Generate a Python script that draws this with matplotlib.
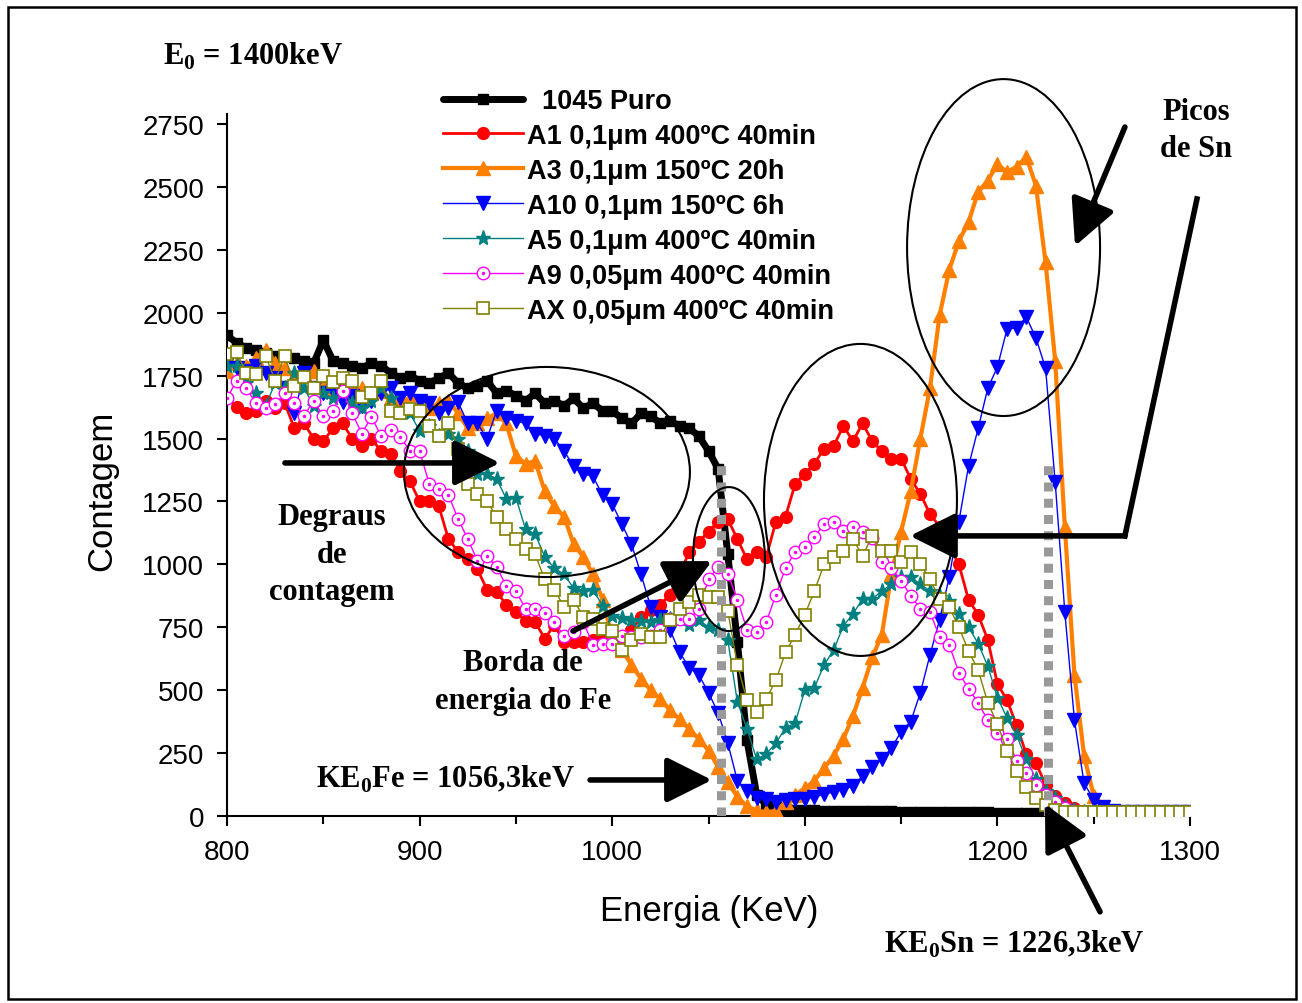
import matplotlib
matplotlib.use('Agg')
import matplotlib.pyplot as plt
from matplotlib.patches import Ellipse, Rectangle
from matplotlib.legend_handler import HandlerTuple

plt.rcParams['font.family'] = ['Liberation Sans', 'DejaVu Sans']
plt.rcParams['mathtext.fontset'] = 'custom'
plt.rcParams['mathtext.rm'] = 'Liberation Serif:bold'
plt.rcParams['mathtext.bf'] = 'Liberation Serif:bold'

# energy channels (keV), every 5 keV
energia = list(range(800, 1305, 5))

puro_1045 = [1910, 1880, 1860, 1850, 1840, 1830, 1830, 1820, 1810, 1800,
             1890, 1810, 1800, 1790, 1780, 1800, 1790, 1760, 1740, 1750,
             1730, 1720, 1740, 1760, 1720, 1700, 1710, 1730, 1680, 1690,
             1670, 1650, 1680, 1640, 1650, 1630, 1660, 1620, 1640, 1610,
             1610, 1580, 1560, 1600, 1590, 1560, 1570, 1550, 1540, 1510,
             1450, 1380, 1040, 690, 300, 85, 45, 35, 28, 25,
             22, 22, 20, 20, 20, 18, 18, 18, 18, 18,
             16, 16, 16, 15, 15, 15, 15, 14, 14, 14,
             13, 13, 12, 12, 12, 10]

a1 = [1660, 1625, 1600, 1610, 1650, 1620, 1640, 1540, 1560, 1500,
      1490, 1540, 1560, 1500, 1470, 1500, 1450, 1440, 1370, 1330,
      1250, 1250, 1230, 1100, 1050, 1020, 980, 900, 890, 840,
      810, 775, 770, 705, 760, 690, 690, 690, 700, 700,
      690, 700, 740, 790, 820, 840, 880, 960, 1050, 1090,
      1130, 1170, 1180, 1100, 1020, 1050, 1030, 1170, 1190, 1320,
      1360, 1400, 1460, 1470, 1550, 1490, 1560, 1490, 1450, 1420,
      1420, 1340, 1280, 1200, 1150, 1070, 1000, 860, 800, 700,
      525, 460, 360, 246, 210, 125, 79, 52, 30, 20,
      15, 12, 10, 10, 10, 10, 10, 10, 10, 10,
      10]

a3 = [1770, 1800, 1790, 1820, 1850, 1800, 1780, 1750, 1760, 1770,
      1720, 1700, 1720, 1690, 1700, 1680, 1690, 1660, 1650, 1660,
      1640, 1620, 1640, 1650, 1600, 1540, 1560, 1580, 1600, 1560,
      1430, 1400, 1410, 1290, 1230, 1190, 1080, 1030, 960, 860,
      710, 660, 600, 545, 500, 465, 420, 385, 345, 306,
      260, 195, 135, 75, 38, 22, 15, 20, 55, 85,
      110, 140, 190, 240, 306, 397, 510, 630, 720, 960,
      1130, 1290, 1500, 1700, 1990, 2170, 2285, 2360, 2480, 2525,
      2590, 2560, 2580, 2620, 2505, 2200, 1810, 1150, 560, 240,
      80, 36, 20, 15, 15, 15, 15, 15, 15, 15,
      15]

a10 = [1800, 1780, 1770, 1790, 1760, 1740, 1700, 1600, 1760, 1700,
       1680, 1690, 1645, 1670, 1630, 1650, 1680, 1700, 1660, 1680,
       1650, 1640, 1600, 1620, 1645, 1560, 1560, 1500, 1610, 1580,
       1570, 1560, 1520, 1510, 1500, 1450, 1390, 1360, 1350, 1275,
       1240, 1160, 1080, 960, 830, 790, 740, 650, 590, 560,
       490, 410, 290, 140, 100, 72, 68, 56, 62, 68,
       68, 75, 87, 95, 105, 119, 159, 195, 225, 270,
       335, 375, 490, 640, 780, 950, 1170, 1390, 1540, 1700,
       1784, 1935, 1940, 1983, 1900, 1780, 1327, 811, 380, 130,
       65, 36, 20, 15, 15, 15, 15, 15, 15, 15,
       15]

a5 = [1790, 1790, 1720, 1680, 1630, 1720, 1700, 1760, 1700, 1630,
      1680, 1660, 1690, 1640, 1620, 1650, 1700, 1660, 1600, 1600,
      1530, 1550, 1510, 1520, 1500, 1450, 1360, 1359, 1340, 1260,
      1265, 1140, 1120, 1030, 985, 960, 905, 895, 900, 835,
      795, 785, 780, 775, 771, 778, 783, 783, 760, 780,
      750, 740, 700, 453, 346, 226, 246, 290, 350, 370,
      500, 510, 600, 660, 755, 803, 862, 862, 895, 920,
      950, 950, 920, 895, 870, 854, 803, 751, 685, 596,
      470, 390, 320, 225, 147, 100, 70, 40, 25, 15,
      12, 12, 12, 12, 12, 12, 12, 12, 12, 12,
      12]

a9 = [1660, 1730, 1700, 1640, 1620, 1637, 1680, 1640, 1590, 1650,
      1590, 1610, 1689, 1600, 1520, 1586, 1510, 1535, 1506, 1451,
      1451, 1320, 1300, 1275, 1180, 1101, 1015, 1033, 990, 914,
      894, 823, 823, 805, 770, 715, 731, 771, 680, 683,
      683, 715, 711, 711, 715, 740, 783, 783, 783, 823,
      940, 990, 962, 860, 740, 731, 770, 880, 985, 1050,
      1070, 1109, 1160, 1170, 1133, 1149, 1130, 1105, 1010, 985,
      935, 875, 823, 810, 711, 680, 570, 505, 450, 380,
      330, 306, 220, 170, 125, 85, 55, 30, 18, 12,
      12, 12, 12, 12, 12, 12, 12, 12, 12, 12,
      12]

ax_ = [1836, 1844, 1760, 1757, 1830, 1730, 1828, 1710, 1745, 1700,
       1749, 1725, 1740, 1729, 1665, 1680, 1729, 1610, 1600, 1617,
       1610, 1550, 1510, 1560, 1460, 1320, 1280, 1250, 1190, 1141,
       1100, 1060, 1040, 940, 900, 830, 860, 790, 783, 743,
       735, 660, 700, 725, 711, 711, 780, 823, 850, 880,
       870, 870, 815, 600, 460, 413, 465, 540, 650, 720,
       800, 894, 1000, 1030, 1053, 1101, 1033, 1113, 1053, 1055,
       1010, 1050, 1000, 940, 862, 830, 750, 656, 580, 450,
       366, 258, 180, 115, 70, 45, 25, 15, 15, 15,
       15, 15, 15, 15, 15, 15, 15, 15, 15, 15,
       15]

fig = plt.figure(figsize=(13.02, 10.04), dpi=100)
ax = fig.add_axes([0.17435, 0.1863, 0.73963, 0.6992])

h_puro, = ax.plot(energia[:len(puro_1045)], puro_1045, color='black', lw=5, marker='s', ms=7,
                  solid_capstyle='round', zorder=3)
h_a1, = ax.plot(energia, a1, color='#ff0000', lw=2, marker='o', ms=8.5, zorder=4)
h_a3, = ax.plot(energia, a3, color='#ff8000', lw=3, marker='^', ms=9.5, zorder=5)
h_a10, = ax.plot(energia, a10, color='#0000ff', lw=1, marker='v', ms=9.5, zorder=6)
h_a5, = ax.plot(energia, a5, color='#008080', lw=1, marker='*', ms=11, zorder=7)
h_a9, = ax.plot(energia, a9, color='#ff00ff', lw=1, marker='o', ms=9, mfc='white', mew=1, zorder=8)
h_a9d, = ax.plot(energia, a9, color='#ff00ff', lw=0, marker='o', ms=1.5, zorder=8)
h_ax, = ax.plot(energia, ax_, color='#808000', lw=1, marker='s', ms=8.5, mfc='white', mew=1.2, zorder=9)

# gray dotted lines at the kinematic edges
ax.plot([1056.3, 1056.3], [0, 1420], color='#999999', lw=6.5, ls=(0, (1.0, 0.8)), zorder=10)
ax.plot([1226.3, 1226.3], [0, 1420], color='#999999', lw=6.5, ls=(0, (1.0, 0.8)), zorder=10)

ax.set_xlim(800, 1300)
ax.set_ylim(0, 2790)
ax.set_xticks(range(800, 1301, 100))
ax.set_xticks(range(850, 1300, 100), minor=True)
ax.set_yticks(range(0, 2751, 250))
for s in ['top', 'right']:
    ax.spines[s].set_visible(False)
for s in ['left', 'bottom']:
    ax.spines[s].set_linewidth(1.5)
ax.tick_params(which='major', direction='out', length=7.5, width=1.5, labelsize=20, pad=9)
ax.tick_params(which='minor', direction='out', length=5.5, width=1.5)

ax.text(0.5005, -0.135, 'Energia (KeV)', transform=ax.transAxes, fontsize=25, ha='center', va='center')
ax.text(-0.13, 0.464, 'Contagem', transform=ax.transAxes, fontsize=25, ha='center', va='center',
        rotation=90)

leg = ax.legend([h_puro, h_a1, h_a3, h_a10, h_a5, (h_a9, h_a9d), h_ax],
                ['  1045 Puro', 'A1 0,1μm 400ºC 40min', 'A3 0,1μm 150ºC 20h',
                 'A10 0,1μm 150ºC 6h', 'A5 0,1μm 400ºC 40min',
                 'A9 0,05μm 400ºC 40min', 'AX 0,05μm 400ºC 40min'],
                handler_map={tuple: HandlerTuple(ndivide=1)},
                loc='upper left', bbox_to_anchor=(443 / 1302, 1 - 89 / 1004),
                bbox_transform=fig.transFigure, frameon=False, borderpad=0, borderaxespad=0,
                handlelength=2.95, handletextpad=0.15, labelspacing=0.33,
                prop={'weight': 'bold', 'size': 19.5})
leg.set_zorder(20)

# ellipses
for c, w, h in [((966.1, 1367), 148.5, 835), ((1060.6, 1021), 37.4, 572),
                ((1128.9, 1256), 100.2, 1240), ((1203.2, 2259), 100.2, 1339)]:
    ax.add_patch(Ellipse(c, w, h, fill=False, ec='black', lw=1.5, zorder=12, clip_on=False))

serif = dict(family='Liberation Serif', weight='bold', fontsize=22, ha='center', va='center',
             clip_on=False, zorder=15)
ax.text(813.5, 3024, 'E$_\\mathrm{0}$ = 1400keV', **serif)
ax.text(854.5, 1041, 'Degraus\nde\ncontagem', linespacing=1.4, **serif)
ax.text(953.7, 535, 'Borda de\nenergia do Fe', linespacing=1.4, **serif)
ax.text(1303.1, 2726, 'Picos\nde Sn', linespacing=1.4, **serif)
ax.text(913.2, 151, 'KE$_\\mathrm{0}$Fe = 1056,3keV', **serif)
ax.text(1208.6, -505, 'KE$_\\mathrm{0}$Sn = 1226,3keV', **serif)

arrow = dict(arrowstyle='-|>,head_length=1.4,head_width=0.7', lw=4, color='black',
             mutation_scale=20, shrinkA=0, shrinkB=0)
for start, tip in [((830.1, 1403), (941.7, 1403)),
                   ((979.6, 735), (1051.8, 1013)),
                   ((988.5, 143), (1051.8, 143)),
                   ((1253.3, -381), (1224.7, 48)),
                   ((1266.2, 2738), (1240.3, 2265)),
                   ((1266.2, 1113), (1154.6, 1113))]:
    ax.annotate('', xy=tip, xytext=start, arrowprops=arrow, annotation_clip=False, zorder=14)
ax.plot([1303.6, 1266.2, 1266.2], [2452, 1113, 1113], color='black', lw=4, clip_on=False,
        solid_joinstyle='miter', zorder=14)

fig.add_artist(Rectangle((8 / 1302, 1 - 1000 / 1004), 1288 / 1302, 992 / 1004,
                         transform=fig.transFigure, fill=False, ec='black', lw=1.8))

fig.savefig('out.png', dpi=100)
